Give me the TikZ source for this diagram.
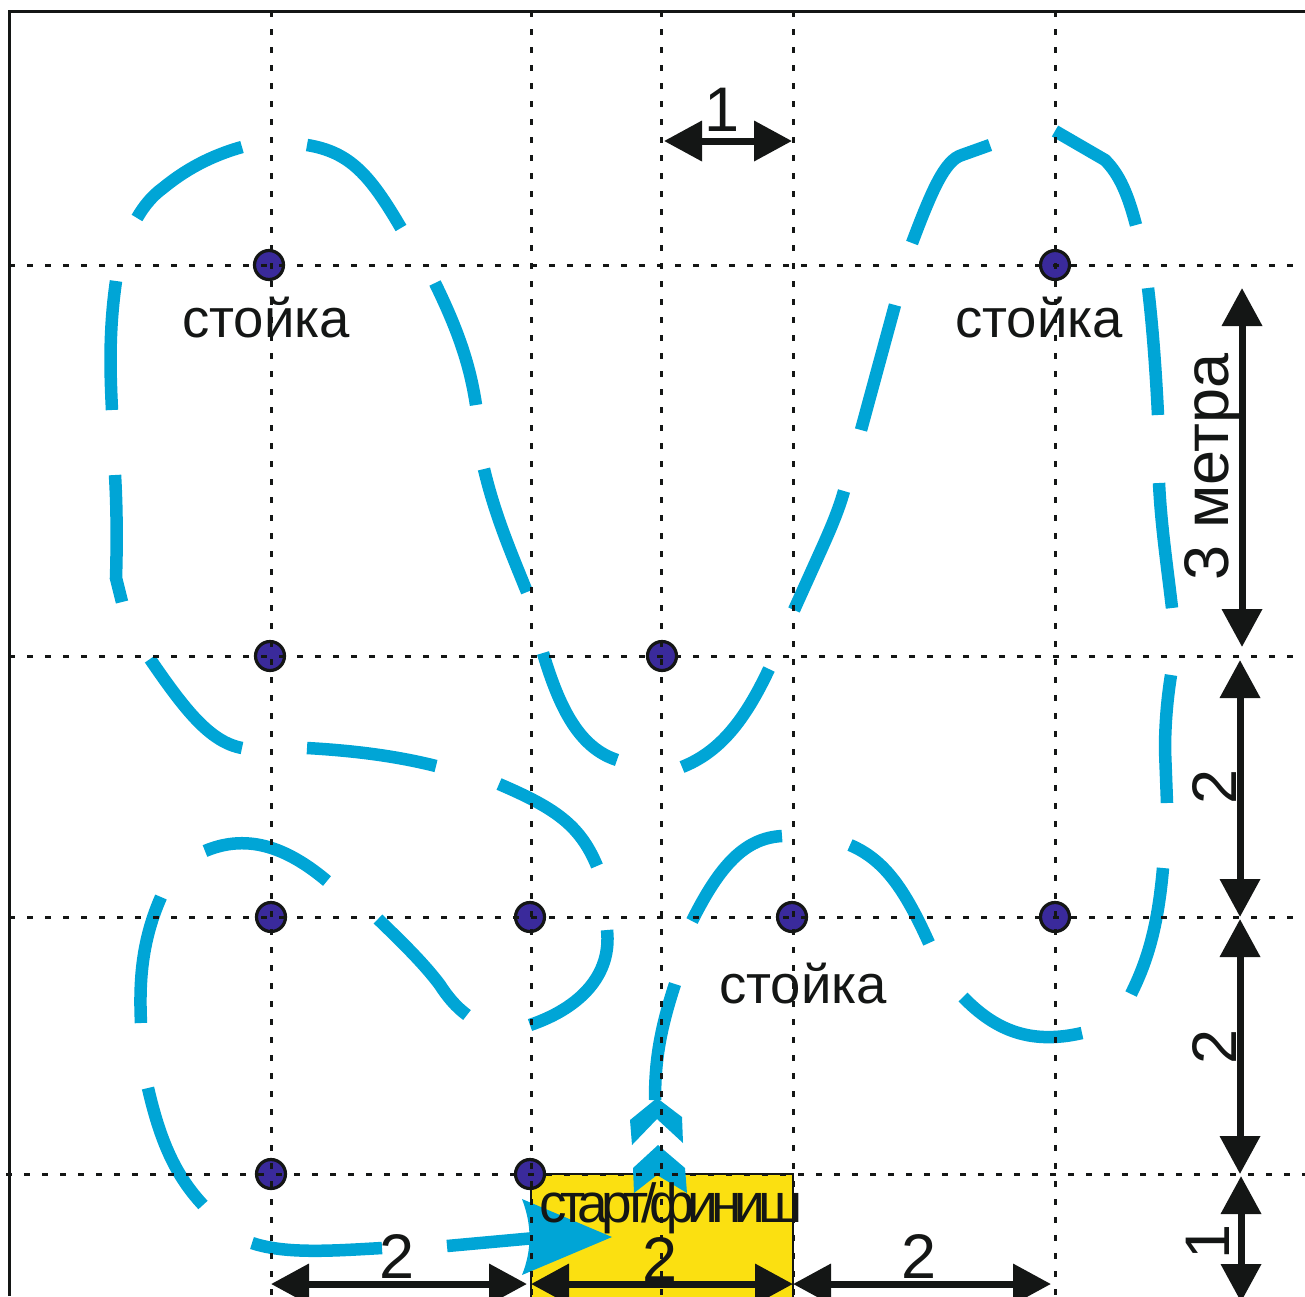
\documentclass[tikz,border=0pt]{standalone}
\usepackage{fontspec}
\setmainfont{Liberation Sans}
\newfontfamily\tightfont[LetterSpace=-13]{Liberation Sans}
\usetikzlibrary{arrows.meta}
\definecolor{trailblue}{HTML}{00A5D6}
\definecolor{postblue}{HTML}{3A2A9B}
\definecolor{markyellow}{HTML}{FBE011}
\definecolor{inkblack}{HTML}{141615}
\tikzset{
  trail/.style={draw=trailblue, line width=12.5pt},
  chevron/.style={fill=trailblue, draw=none},
  gridline/.style={draw=inkblack, line width=3pt, dash pattern=on 6pt off 12pt},
  post/.style={circle, draw=inkblack, line width=3.2pt, fill=postblue, minimum size=29pt, inner sep=0pt},
  dimline/.style={draw=inkblack, line width=7pt, {Triangle[length=38pt,width=39pt]}-{Triangle[length=38pt,width=39pt]}},
  postlabel/.style={font=\fontsize{54.5}{55}\selectfont, text=inkblack, inner sep=0pt},
  dimlabel/.style={font=\fontsize{63}{63}\selectfont, text=inkblack, inner sep=0pt}
}
\begin{document}
\begin{tikzpicture}[x=1pt, y=-1pt]
\useasboundingbox (0,0) rectangle (1305,1296);
\clip (0,0) rectangle (1305,1296);

\draw[fill=markyellow, draw=inkblack, line width=2.5pt] (531,1174) rectangle (793,1300);

\draw[draw=inkblack, line width=3pt] (9,1296)--(9,11)--(1305,11);

% left loop
\draw[trail] (137,218) .. controls (144,206) and (152,196) .. (163,188) .. controls (185,170) and (210,156) .. (242,147);
\draw[trail] (307,145) .. controls (350,152) and (370,175) .. (401,228);
\draw[trail] (435,283) .. controls (458,330) and (470,365) .. (476,405);
\draw[trail] (116,281) .. controls (109,330) and (110,370) .. (112,410);
\draw[trail] (115,475) .. controls (117,510) and (117,545) .. (116,578) -- (122,602);
\draw[trail] (150,659) .. controls (185,710) and (210,742) .. (242,748);
\draw[trail] (307,748) .. controls (360,751) and (400,757) .. (436,766);
\draw[trail] (499,784) .. controls (555,808) and (580,825) .. (597,866);

% lower left loop
\draw[trail] (205,851) .. controls (250,832) and (290,850) .. (327,881);
\draw[trail] (161,897) .. controls (142,940) and (139,980) .. (141,1023);
\draw[trail] (148,1088) .. controls (160,1140) and (175,1175) .. (203,1205);
\draw[trail] (252,1243) .. controls (285,1254) and (330,1251) .. (382,1248);
\draw[trail] (447,1246) -- (535,1238);
\draw[trail] (378,919) .. controls (405,945) and (425,965) .. (440,985) .. controls (447,996) and (456,1007) .. (467,1015);
\draw[trail] (530,1025) .. controls (580,1008) and (612,975) .. (607,930);

% middle
\draw[trail] (484,469) .. controls (495,515) and (510,550) .. (527,592);
\draw[trail] (543,653) .. controls (560,710) and (580,748) .. (617,760);
\draw[trail] (682,767) .. controls (720,752) and (745,720) .. (769,669);

% right loop
\draw[trail] (794,610) -- (822,548) .. controls (830,530) and (838,512) .. (844,491);
\draw[trail] (861,430) -- (895,305);
\draw[trail] (912,243) .. controls (932,190) and (945,160) .. (962,155) -- (990,145);
\draw[trail] (1055,131) -- (1105,160) .. controls (1120,175) and (1128,195) .. (1136,225);
\draw[trail] (1148,288) .. controls (1153,330) and (1156,375) .. (1158,415);
\draw[trail] (1159,483) .. controls (1161,525) and (1167,565) .. (1172,608);
\draw[trail] (1171,675) .. controls (1167,700) and (1165,725) .. (1165,750) -- (1167,803);
\draw[trail] (1163,868) .. controls (1158,925) and (1148,960) .. (1131,994);
\draw[trail] (1082,1033) .. controls (1030,1045) and (995,1030) .. (963,997);
\draw[trail] (929,943) .. controls (905,890) and (885,860) .. (850,845);
\draw[trail] (782,836) .. controls (745,838) and (720,865) .. (692,921);
\draw[trail] (675,984) .. controls (660,1030) and (655,1060) .. (655,1100);

% arrows on the trail
\fill[chevron] (657,1098)--(630,1120)--(632,1145)--(657,1119)--(683,1143)--(682,1117)--cycle;
\fill[chevron] (658,1145)--(633,1168)--(634,1193)--(657,1175)--(687,1193)--(685,1168)--cycle;
\fill[chevron] (522,1199)--(612,1237)--(522,1275) .. controls (532,1250) and (532,1225) .. (522,1199)--cycle;

% posts
\node[post] (postA) at (269,265) {};
\node[post] (postB) at (1055,265) {};
\node[post] (postC) at (270,656) {};
\node[post] (postD) at (662,656) {};
\node[post] (postE) at (271,917) {};
\node[post] (postF) at (530,917) {};
\node[post] (postG) at (792,917) {};
\node[post] (postH) at (1055,917) {};
\node[post] (postI) at (271,1174) {};
\node[post] (postJ) at (530,1174) {};

% grid
\foreach \x in {271,531,661,793,1055}
  \draw[gridline] (\x,11)--(\x,1296);
\foreach \y/\s in {265/9,656/9,917/9,1174/6}
  \draw[gridline] (\s,\y)--(1305,\y);

% dimensions
\coordinate (baseA) at (271,1284);
\coordinate (baseB) at (527,1284);
\coordinate (baseC) at (531,1284);
\coordinate (baseD) at (793,1284);
\coordinate (baseE) at (1051,1284);
\coordinate (topA) at (664,141);
\coordinate (topB) at (792,141);
\coordinate (sideA) at (1242,288);
\coordinate (sideB) at (1242,647);
\coordinate (sideC) at (1240,660);
\coordinate (sideD) at (1240,917);
\coordinate (sideE) at (1240,919);
\coordinate (sideF) at (1240,1174);
\coordinate (sideG) at (1241,1176);
\coordinate (sideH) at (1241,1302);
\draw[dimline] (baseA)--(baseB);
\draw[dimline] (baseC)--(baseD);
\draw[dimline] (baseD)--(baseE);
\draw[dimline] (topA)--(topB);
\draw[dimline] (sideA)--(sideB);
\draw[dimline] (sideC)--(sideD);
\draw[dimline] (sideE)--(sideF);
\draw[dimline] (sideG)--(sideH);

% labels
\node[postlabel] (labelA) at (266,318) {стойка};
\node[postlabel] (labelB) at (1039,318) {стойка};
\node[postlabel] (labelC) at (803,984) {стойка};
\node[postlabel, font=\fontsize{55}{55}\tightfont] (labelStart) at (671,1208) {старт/финиш};
\node[dimlabel] (labelTop) at (722,110) {1};
\node[dimlabel] (labelBaseA) at (397,1256) {2};
\node[dimlabel] (labelBaseB) at (660,1259) {2};
\node[dimlabel] (labelBaseC) at (919,1256) {2};
\node[dimlabel, rotate=90] (labelSideA) at (1213,467) {3 метра};
\node[dimlabel, rotate=90] (labelSideB) at (1214,787) {2};
\node[dimlabel, rotate=90] (labelSideC) at (1214,1047) {2};
\node[dimlabel, rotate=90] (labelSideD) at (1208,1242) {1};
\end{tikzpicture}
\end{document}
